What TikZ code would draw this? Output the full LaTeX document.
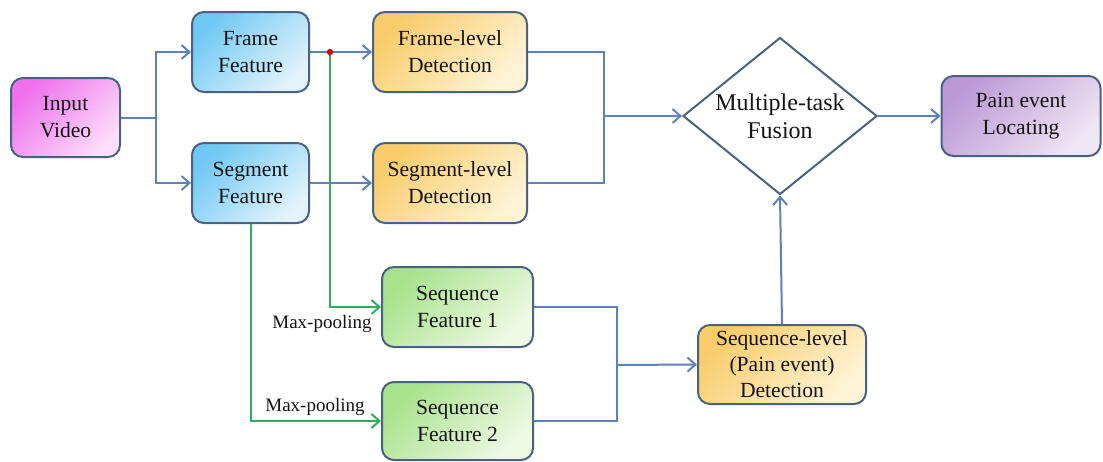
\documentclass[tikz,border=0pt]{standalone}
\usepackage{fontspec}
\setmainfont{Liberation Serif}
\usetikzlibrary{arrows.meta,shapes.geometric}
\definecolor{bordc}{HTML}{4A6282}
\definecolor{linec}{HTML}{5B82BC}
\definecolor{greenc}{HTML}{2EAD5A}
\definecolor{txtc}{HTML}{141414}
\definecolor{pink1}{HTML}{F070EE}
\definecolor{pink2}{HTML}{FCDDFB}
\definecolor{blue1}{HTML}{70C8F4}
\definecolor{blue2}{HTML}{E2F3FC}
\definecolor{orange1}{HTML}{F8CC6A}
\definecolor{orange2}{HTML}{FFF3D6}
\definecolor{green1}{HTML}{A8E28C}
\definecolor{green2}{HTML}{EEF9E4}
\definecolor{purple1}{HTML}{BC98D6}
\definecolor{purple2}{HTML}{EEE6F4}
\tikzset{
  box/.style={draw=bordc, line width=1pt, rounded corners=6pt, align=center,
    text=txtc, font=\rmfamily\fontsize{10.8}{13.5}\selectfont, inner sep=0pt},
  pinkbox/.style={box, top color=pink1, bottom color=pink2, shading angle=45},
  bluebox/.style={box, top color=blue1, bottom color=blue2, shading angle=45},
  orangebox/.style={box, top color=orange1, bottom color=orange2, shading angle=45},
  greenbox/.style={box, top color=green1, bottom color=green2, shading angle=45},
  purplebox/.style={box, top color=purple1, bottom color=purple2, shading angle=45},
  arr/.style={draw=linec, line width=1pt, -{Straight Barb[length=4pt,width=7pt,line width=1pt]}},
  ln/.style={draw=linec, line width=1pt},
  garr/.style={draw=greenc, line width=1pt, -{Straight Barb[length=4pt,width=7pt,line width=1pt]}},
  lbl/.style={text=txtc, font=\rmfamily\fontsize{9.5}{11}\selectfont, inner sep=0pt}
}
\begin{document}
\begin{tikzpicture}[x=0.5pt,y=-0.5pt]
\useasboundingbox (0,0) rectangle (1103,461);
% nodes
\node[pinkbox, minimum width=54.5pt, minimum height=39.5pt] (iv) at (65.5,117.5) {Input\\Video};
\node[bluebox, minimum width=58.5pt, minimum height=40pt] (ff) at (250.5,52) {Frame\\Feature};
\node[bluebox, minimum width=58.5pt, minimum height=40pt] (sf) at (250.5,183) {Segment\\Feature};
\node[orangebox, minimum width=77pt, minimum height=40pt] (fd) at (450,52) {Frame-level\\Detection};
\node[orangebox, minimum width=77pt, minimum height=40pt] (sd) at (450,183) {Segment-level\\Detection};
\node[draw=bordc, line width=1pt, diamond, aspect=1.236, minimum width=97pt, minimum height=78.5pt,
  inner sep=0pt, align=center, text=txtc, font=\rmfamily\fontsize{12}{14}\selectfont] (dm) at (780,116) {Multiple-task\\Fusion};
\node[purplebox, minimum width=79.5pt, minimum height=40pt] (pl) at (1021,116) {Pain event\\Locating};
\node[greenbox, minimum width=75.5pt, minimum height=40pt] (q1) at (457.5,307) {Sequence\\Feature 1};
\node[greenbox, minimum width=75.5pt, minimum height=39pt] (q2) at (457.5,421) {Sequence\\Feature 2};
\node[orangebox, minimum width=84pt, minimum height=39.5pt, font=\rmfamily\fontsize{10.8}{13}\selectfont] (sl) at (782,364.5) {Sequence-level\\(Pain event)\\Detection};
\node[lbl, anchor=east] (mp1) at (372,324) {Max-pooling};
\node[lbl, anchor=east] (mp2) at (365,407) {Max-pooling};
% junctions
\coordinate (b1) at (156,117.5);
\coordinate (m1) at (604,116);
\coordinate (m2) at (617,365);
\coordinate (rd) at (330,52);
% blue connectors
\draw[ln] (iv.east) -- (b1);
\draw[arr] (b1) |- (ff.west);
\draw[arr] (b1) |- (sf.west);
\draw[arr] (ff.east) -- (fd.west);
\draw[arr] (sf.east) -- (sd.west);
\draw[ln] (fd.east) -| (m1);
\draw[ln] (sd.east) -| (m1);
\draw[arr] (m1) -- (dm.west);
\draw[arr] (dm.east) -- (pl.west);
\draw[ln] (q1.east) -| (m2);
\draw[ln] (q2.east) -| (m2);
\draw[arr] (m2) -- (sl.west);
\draw[arr] (sl.north) -- (dm.south);
% green connectors
\draw[garr] (rd) |- (q1.west);
\draw[garr] (sf.south) |- (q2.west);
\fill[red!85!black] (rd) circle (1.6pt);
\end{tikzpicture}
\end{document}
